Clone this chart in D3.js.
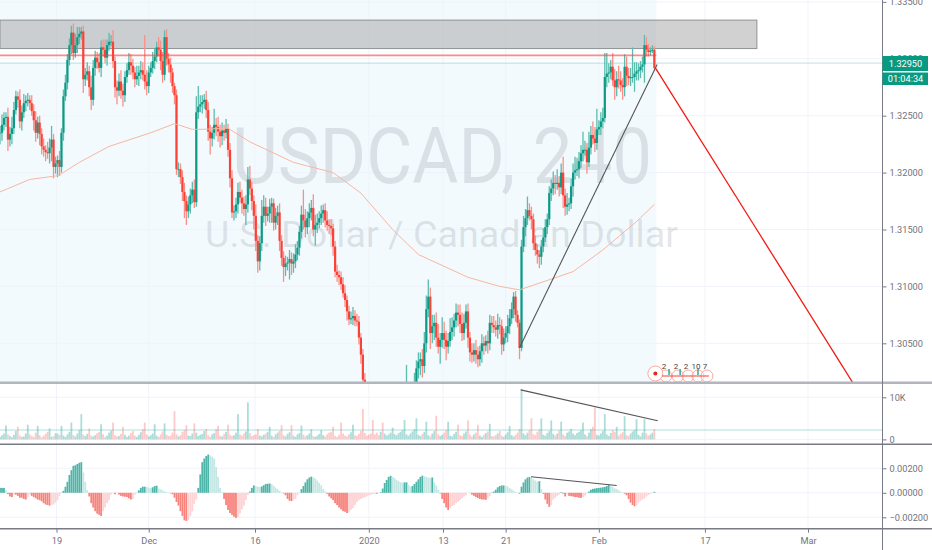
<!DOCTYPE html>
<html>
<head>
<meta charset="utf-8">
<script src="https://cdn.jsdelivr.net/npm/d3@7"></script>
<style>
  html, body { margin: 0; padding: 0; background: #fff; overflow: hidden; }
  svg { display: block; }
  .axis text { font-family: Roboto, sans-serif; font-size: 9.2px; fill: #6f737e; }
  .axis line { stroke: #787b86; }
  .axis path { display: none; }
</style>
</head>
<body>
<div id="chart"></div>
<script>
// all prices are pips above 1.25500, bar index is one 4h candle
const closes = [
  685,692,698,699,679,684,689,705,717,714,
  695,703,711,713,714,711,704,696,685,694,
  684,673,670,668,667,672,679,655,658,661,
  655,685,717,729,749,762,773,755,762,769,
  772,774,732,736,739,725,714,742,751,747,
  742,760,758,751,762,765,765,748,725,722,
  730,722,718,734,740,747,744,738,732,735,
  738,740,736,730,726,738,742,748,752,760,
  758,748,736,769,750,745,738,726,718,653,
  653,646,633,625,616,622,630,635,624,703,
  708,710,712,714,705,686,680,685,692,690,
  686,682,687,685,689,670,645,615,616,622,
  633,628,623,618,622,644,636,625,612,590,
  572,588,612,620,612,614,620,623,606,612,
  615,590,575,567,570,571,574,570,572,578,
  584,598,613,608,602,610,615,619,600,604,
  606,610,614,617,608,604,603,601,585,563,
  560,558,552,544,538,528,521,522,524,520,
  519,505,490,468,450,440,425,410,398,385,
  372,368,370,365,372,378,384,392,400,410,
  418,425,430,436,440,445,450,456,460,464,
  478,484,486,480,500,530,541,509,515,518,
  505,497,503,509,503,497,502,510,514,520,
  527,525,517,509,518,528,505,492,490,494,
  490,486,493,500,498,502,500,518,516,514,
  512,516,515,499,505,509,515,522,530,541,
  525,518,496,585,602,610,617,612,609,588,
  582,578,576,585,593,602,609,632,636,641,
  640,641,637,650,630,620,622,623,638,650,
  652,653,660,667,670,670,659,672,683,680,
  676,688,690,695,698,734,737,738,743,731,
  725,732,731,727,725,743,735,733,734,734,
  737,739,740,743,745,762,758,756,757,758,742
]
const upWick = [
  6,9,5,4,8,6,10,7,5,4,
  9,6,8,5,6,4,7,6,8,5,
  6,5,7,4,9,8,12,5,6,4,
  8,4,6,7,5,6,6,8,10,9,
  6,4,5,6,8,5,10,7,6,5,
  8,6,7,9,5,8,6,10,4,6,
  7,10,6,5,6,8,7,6,5,9,
  6,8,7,35,10,6,5,8,7,5,
  9,8,8,6,7,5,6,4,3,5,
  6,5,6,8,5,7,6,7,9,14,
  18,8,6,5,8,7,6,5,14,6,
  9,6,7,5,8,4,6,7,5,6,
  8,9,7,6,8,11,12,6,5,10,
  5,6,14,10,8,6,7,5,4,7,
  6,8,5,6,7,5,8,6,7,9,
  6,5,8,22,10,6,8,7,12,9,
  8,6,7,5,6,8,5,6,4,5,
  6,4,5,6,7,4,5,6,8,5,
  6,5,4,5,6,8,5,6,7,5,
  6,8,5,7,6,4,5,6,7,8,
  6,5,9,7,5,36,6,8,5,10,
  7,8,6,9,10,12,15,8,10,7,
  9,12,6,14,10,8,7,12,9,6,
  8,7,9,10,8,6,7,5,8,6,
  9,7,5,8,6,5,9,7,6,8,
  6,10,7,6,8,6,10,8,6,4,
  5,4,3,6,10,8,12,6,8,5,
  7,5,4,6,8,7,5,6,8,10,
  7,12,6,8,14,6,10,5,7,8,
  12,10,8,7,16,8,6,14,8,12,
  10,18,6,8,9,21,18,8,6,12,
  10,7,12,8,6,11,9,7,8,26,
  10,8,6,5,7,9,7,5,3,4,3
]
const downWick = [
  10,7,5,8,10,6,9,5,4,7,
  6,8,5,7,5,6,4,9,8,5,
  10,7,6,8,5,9,12,10,6,12,
  8,5,7,4,6,5,8,6,4,7,
  6,5,12,6,5,8,9,5,7,6,
  4,8,6,5,7,5,4,6,9,12,
  5,7,10,6,5,4,8,6,7,5,
  9,6,5,7,8,6,4,5,7,5,
  6,8,7,5,6,7,9,6,8,5,
  7,6,8,15,12,6,8,7,5,4,
  6,5,8,6,7,8,14,7,6,8,
  9,10,8,7,5,6,8,5,7,6,
  8,5,9,6,14,7,6,8,12,9,
  10,8,7,6,9,5,8,14,7,6,
  8,9,7,13,8,6,15,10,8,6,
  5,7,6,8,9,6,8,7,6,14,
  7,5,6,8,6,5,7,6,8,5,
  6,7,5,4,6,8,5,4,6,5,
  4,6,8,5,6,5,7,6,8,5,
  6,4,7,5,6,8,5,7,6,4,
  5,8,6,7,5,6,8,5,10,6,
  8,9,12,10,6,8,7,14,9,12,
  8,6,15,7,8,12,6,5,7,8,
  6,10,8,7,6,5,9,8,7,6,
  8,7,6,10,8,5,9,6,7,5,
  6,8,7,9,6,5,8,7,5,8,
  6,4,10,3,5,8,6,4,9,6,
  5,8,10,7,5,4,6,5,7,6,
  9,5,8,6,11,8,7,6,5,9,
  6,5,8,6,7,5,10,4,6,5,
  8,6,5,7,6,4,9,8,6,5,
  11,8,7,6,11,8,9,6,7,5,
  13,6,8,7,5,16,6,4,3,2,2
]
// volume in hundreds
const volumes = [
  6,10,14,33,12,8,5,11,20,30,
  9,6,7,14,35,12,8,6,16,32,
  10,5,9,13,18,26,6,8,15,14,
  11,32,9,6,12,18,40,10,7,14,
  22,60,11,8,13,26,9,7,10,15,
  18,36,12,6,9,16,21,40,10,7,
  8,13,30,11,6,9,15,20,9,6,
  11,17,24,40,12,7,10,14,36,9,
  6,12,19,38,11,8,9,16,67,12,
  7,10,18,22,34,9,8,14,38,16,
  8,11,13,20,25,10,6,12,15,24,
  32,9,7,13,18,35,11,8,10,16,
  60,12,9,14,19,88,15,8,10,12,
  25,9,7,11,14,18,30,9,6,12,
  16,20,34,10,7,13,17,34,9,6,
  12,15,33,11,7,10,14,24,8,6,
  9,13,22,10,7,12,16,18,30,8,
  6,11,40,14,9,7,12,17,35,10,
  8,13,20,72,15,9,11,14,46,12,
  16,10,18,40,14,9,12,16,28,13,
  10,15,18,22,46,12,9,14,19,24,
  50,11,8,13,18,42,10,7,14,20,
  56,12,8,11,16,22,42,9,7,13,
  18,35,10,8,14,19,45,11,7,12,
  16,35,9,6,11,15,19,37,8,7,
  10,14,20,9,6,12,17,32,10,7,
  11,16,25,119,14,10,16,22,50,12,
  10,18,24,50,11,9,15,20,45,13,
  9,14,21,42,12,8,16,19,25,14,
  10,15,18,22,40,12,8,16,24,30,
  76,11,9,14,20,60,12,8,15,22,
  18,30,9,13,17,55,10,8,14,19,
  22,48,11,7,16,48,14,9,12,16,24
]
// macd histogram in units of 0.00001
const histogram = [
  40,40,40,20,-10,-30,-35,-15,-15,-25,
  -40,-40,-50,-55,-35,-15,-25,-35,-45,-55,
  -60,-70,-85,-95,-100,-105,-100,-95,-80,-60,
  -25,2,16,50,90,145,185,220,225,235,
  245,250,165,90,20,-30,-85,-120,-150,-170,
  -180,-190,-150,-120,-85,-60,-15,-4,-12,-2,
  -15,-25,-30,-32,-35,-45,-55,-50,-15,-3,
  20,40,50,50,48,42,38,45,55,58,
  35,28,20,12,6,2,-4,-12,-40,-75,
  -105,-150,-190,-225,-230,-222,-190,-150,-90,-55,
  40,150,250,280,300,312,305,295,280,210,
  130,40,5,-50,-100,-140,-165,-180,-195,-205,
  -200,-170,-135,-105,-60,-18,10,40,60,55,
  50,48,52,62,72,74,76,70,58,42,
  30,15,4,-5,-20,-50,-65,-68,-60,-50,
  -20,-4,30,55,85,110,125,132,125,118,
  100,80,60,30,10,-8,-30,-45,-60,-85,
  -100,-120,-135,-150,-155,-165,-160,-140,-125,-100,
  -75,-60,-50,-42,-36,-28,-20,-16,-10,-8,
  -8,-3,5,35,80,105,130,138,130,120,
  105,95,85,82,85,85,65,50,55,72,
  90,110,130,140,135,130,125,120,125,85,
  60,25,-5,-50,-85,-120,-140,-125,-110,-100,
  -85,-72,-60,-45,-30,-20,-2,-2,-15,-25,
  -35,-42,-50,-55,-55,-58,-45,-25,2,10,
  25,45,55,60,60,58,52,38,30,18,
  8,2,-8,50,85,110,125,130,125,110,
  100,90,95,30,-8,-55,-90,-115,-100,-55,
  -40,-25,-15,5,-8,-30,-12,-25,-28,-30,
  -35,-35,-40,-42,-35,-22,-6,10,25,32,
  35,38,40,42,45,48,55,65,60,48,
  36,30,20,10,3,-8,-20,-50,-80,-100,
  -110,-100,-80,-65,-55,-45,-30,-18,-8,-3,8
]
const maIndex = [0,15,28,30,40,55,76,88,97,102,115,126,148,168,182,198,211,236,252,262,279,289,304,321,330]
const maPips = [633,644,647,648,659,673,685,693,688,688,689,677,659,650,632,600,578,558,550,547,557,563,582,607,622]

const priceTicks = [1.305, 1.31, 1.315, 1.32, 1.325, 1.33, 1.335]
const volumeTicks = [0, 10000]
const macdTicks = [-0.002, 0, 0.002]
const timeIndex = [28.5, 75, 128.6, 186, 223.4, 255, 302, 355.5, 407.5]
const timeLabels = ["19", "Dec", "16", "2020", "13", "21", "Feb", "17", "Mar"]
const eventIndex = [334.8, 340.9, 346, 351, 355.5]
const eventLabels = ["2", "2", "2", "10", "7"]
const eventMarks = [337.4, 343, 352]
const lastPriceLabel = "1.32950"
const countdownLabel = "01:04:34"
const lastPrice = 1.32962
const resistancePips = 753
const zonePips = [759, 784]
const zoneEnd = 381.7
const volumeAverage = 2240
const priceTrend = { index: [262, 331.4], pips: [496, 745] }
const projection = { index: [330.5, 430.2], pips: [742, 465] }
const volumeTrend = { index: [262.6, 331.7], value: [11760, 4450] }
const macdTrend = { index: [267.8, 311], value: [131, 60] }

const width = 932
const height = 550
const plotRight = 882.5
const mainBottom = 382
const lastBar = closes.length - 1
const teal = "#0b9a85"
const red = "#fb4136"
const pips = (v) => 1.255 + v / 10000

const x = d3.scaleLinear().domain([0, 445]).range([0, 882.4])
const y = d3.scaleLinear().domain([1.305, 1.325]).range([343.3, 115.7])
const yVol = d3.scaleLinear().domain([0, 10000]).range([439.4, 397.3])
const yMacd = d3.scaleLinear().domain([-0.002, 0.002]).range([517.3, 468.3])

const svg = d3.select("#chart").append("svg").attr("width", width).attr("height", height)

svg.append("clipPath").attr("id", "main-clip").append("rect")
  .attr("x", 0).attr("y", 0).attr("width", plotRight).attr("height", mainBottom)

// session shading behind the bars
svg.append("rect")
  .attr("x", 0).attr("y", 0)
  .attr("width", x(lastBar) + 2).attr("height", mainBottom)
  .attr("fill", "#f2fafe")
// paler strip between the zone and the last price
svg.append("rect")
  .attr("x", 0).attr("y", y(pips(zonePips[0])))
  .attr("width", x(lastBar) + 2).attr("height", y(lastPrice) - y(pips(zonePips[0])))
  .attr("fill", "#fff").attr("fill-opacity", 0.7)

// grid
const grid = svg.append("g").attr("stroke", "#f0f3fa").attr("stroke-width", 1)
grid.selectAll(".v").data(timeIndex).enter().append("line")
  .attr("x1", (d) => x(d)).attr("x2", (d) => x(d))
  .attr("y1", 0).attr("y2", 528)
grid.selectAll(".p").data(priceTicks).enter().append("line")
  .attr("x1", 0).attr("x2", plotRight)
  .attr("y1", (d) => y(d)).attr("y2", (d) => y(d))
grid.selectAll(".vo").data(volumeTicks).enter().append("line")
  .attr("x1", 0).attr("x2", plotRight)
  .attr("y1", (d) => yVol(d)).attr("y2", (d) => yVol(d))
grid.selectAll(".m").data(macdTicks).enter().append("line")
  .attr("x1", 0).attr("x2", plotRight)
  .attr("y1", (d) => yMacd(d)).attr("y2", (d) => yMacd(d))

// watermark
svg.append("text")
  .attr("x", 232).attr("y", 183)
  .attr("font-family", "Roboto, sans-serif").attr("font-size", 77)
  .attr("textLength", 420).attr("lengthAdjust", "spacingAndGlyphs")
  .attr("fill", "#787b86").attr("fill-opacity", 0.2)
  .text("USDCAD, 240")
svg.append("text")
  .attr("x", 205).attr("y", 247)
  .attr("font-family", "Roboto, sans-serif").attr("font-size", 36.5)
  .attr("textLength", 473).attr("lengthAdjust", "spacingAndGlyphs")
  .attr("fill", "#787b86").attr("fill-opacity", 0.2)
  .text("U.S. Dollar / Canadian Dollar")

// resistance zone
svg.append("rect")
  .attr("x", 0).attr("y", y(pips(zonePips[1])))
  .attr("width", x(zoneEnd)).attr("height", y(pips(zonePips[0])) - y(pips(zonePips[1])))
  .attr("fill", "#9a9a9a").attr("fill-opacity", 0.45)
  .attr("stroke", "#8f9294").attr("stroke-width", 1)

svg.append("line")
  .attr("x1", 0).attr("x2", plotRight)
  .attr("y1", y(lastPrice)).attr("y2", y(lastPrice))
  .attr("stroke", "#26a69a").attr("stroke-opacity", 0.3).attr("stroke-width", 1)

// candles
const main = svg.append("g").attr("clip-path", "url(#main-clip)")
const candles = closes.map((c, i) => {
  const open = i === 0 ? c : closes[i - 1]
  return {
    i: i,
    open: open,
    close: c,
    high: Math.max(open, c) + upWick[i],
    low: Math.min(open, c) - downWick[i],
    up: c >= open,
  }
})
main.append("g").selectAll("line").data(candles).enter().append("line")
  .attr("x1", (d) => x(d.i)).attr("x2", (d) => x(d.i))
  .attr("y1", (d) => y(pips(d.high))).attr("y2", (d) => y(pips(d.low)))
  .attr("stroke", (d) => (d.up ? "#5cbcae" : "#fb8f88"))
  .attr("stroke-width", 1.3)
main.append("g").selectAll("rect").data(candles).enter().append("rect")
  .attr("x", (d) => x(d.i) - 1.1)
  .attr("width", 2.2)
  .attr("y", (d) => y(pips(Math.max(d.open, d.close))))
  .attr("height", (d) => Math.max(0.8, Math.abs(y(pips(d.open)) - y(pips(d.close)))))
  .attr("fill", (d) => (d.up ? teal : red))

svg.append("line")
  .attr("x1", 0).attr("x2", x(lastBar) + 2)
  .attr("y1", y(pips(resistancePips))).attr("y2", y(pips(resistancePips)))
  .attr("stroke", red).attr("stroke-opacity", 0.6).attr("stroke-width", 1.8)

// moving average
const maLine = d3.line()
  .x((d) => x(d))
  .y((d, i) => y(pips(maPips[i])))
main.append("path")
  .attr("d", maLine(maIndex))
  .attr("fill", "none")
  .attr("stroke", "#f8b7a0")
  .attr("stroke-width", 1)

// drawings
main.append("line")
  .attr("x1", x(priceTrend.index[0])).attr("y1", y(pips(priceTrend.pips[0])))
  .attr("x2", x(priceTrend.index[1])).attr("y2", y(pips(priceTrend.pips[1])))
  .attr("stroke", "#555").attr("stroke-width", 1.1)
main.append("line")
  .attr("x1", x(projection.index[0])).attr("y1", y(pips(projection.pips[0])))
  .attr("x2", x(projection.index[1])).attr("y2", y(pips(projection.pips[1])))
  .attr("stroke", "#f21a12").attr("stroke-width", 1.3)

// events on the time line
const events = main.append("g")
events.selectAll("circle").data(eventIndex).enter().append("circle")
  .attr("cx", (d) => x(d) + 2).attr("cy", 376).attr("r", 6)
  .attr("fill", "#fff").attr("fill-opacity", 0.4)
  .attr("stroke", "#f9a99f").attr("stroke-width", 1)
events.append("circle")
  .attr("cx", x(330.5)).attr("cy", 373.5).attr("r", 7.5)
  .attr("fill", "#fff").attr("stroke", "#f9a99f").attr("stroke-width", 1)
events.append("circle")
  .attr("cx", x(330.5)).attr("cy", 373.5).attr("r", 2)
  .attr("fill", "#e8261c")
events.append("line")
  .attr("x1", x(eventIndex[0]) - 2).attr("x2", x(eventIndex[4]) + 4)
  .attr("y1", 376).attr("y2", 376)
  .attr("stroke", "#f2433a").attr("stroke-width", 1.2)
events.selectAll(".mark").data(eventMarks).enter().append("line")
  .attr("x1", (d) => x(d)).attr("x2", (d) => x(d))
  .attr("y1", 369).attr("y2", 375)
  .attr("stroke", "#3fae9f").attr("stroke-width", 1.6)
events.selectAll("text").data(eventLabels).enter().append("text")
  .attr("x", (d, i) => x(eventIndex[i]))
  .attr("y", 369)
  .attr("text-anchor", "middle")
  .attr("font-family", "Roboto, sans-serif")
  .attr("font-size", 8)
  .attr("fill", "#444")
  .text((d) => d)

// volume pane
svg.append("line")
  .attr("x1", 0).attr("x2", plotRight)
  .attr("y1", yVol(volumeAverage)).attr("y2", yVol(volumeAverage))
  .attr("stroke", "#26a69a").attr("stroke-opacity", 0.18).attr("stroke-width", 2)
svg.append("g").selectAll("rect").data(volumes).enter().append("rect")
  .attr("x", (d, i) => x(i) - 0.9)
  .attr("width", 1.8)
  .attr("y", (d) => yVol(d * 100))
  .attr("height", (d) => yVol(0) - yVol(d * 100))
  .attr("fill", (d, i) => (candles[i].up ? "#26a69a" : "#ef5350"))
  .attr("fill-opacity", (d, i) => (candles[i].up ? 0.38 : 0.3))
svg.append("line")
  .attr("x1", x(volumeTrend.index[0])).attr("y1", yVol(volumeTrend.value[0]))
  .attr("x2", x(volumeTrend.index[1])).attr("y2", yVol(volumeTrend.value[1]))
  .attr("stroke", "#555").attr("stroke-width", 1.1)

// macd pane
svg.append("g").selectAll("rect").data(histogram).enter().append("rect")
  .attr("x", (d, i) => x(i) - 0.9)
  .attr("width", 1.8)
  .attr("y", (d) => yMacd(Math.max(d, 0) / 100000))
  .attr("height", (d) => Math.abs(yMacd(d / 100000) - yMacd(0)))
  .attr("fill", function (d, i) {
    const prev = i === 0 ? 0 : histogram[i - 1]
    if (d >= 0) {
      return d >= prev ? "#4fb5a8" : "#c4e7e3"
    }
    return d <= prev ? "#f8837c" : "#fdd3d4"
  })
svg.append("line")
  .attr("x1", x(macdTrend.index[0])).attr("y1", yMacd(macdTrend.value[0] / 100000))
  .attr("x2", x(macdTrend.index[1])).attr("y2", yMacd(macdTrend.value[1] / 100000))
  .attr("stroke", "#555").attr("stroke-width", 1.1)

// right axes
const priceAxis = d3.axisRight(y).tickValues(priceTicks).tickFormat(d3.format(".5f")).tickSize(4).tickPadding(3)
const volAxis = d3.axisRight(yVol).tickValues(volumeTicks).tickFormat((d) => (d === 0 ? "0" : d / 1000 + "K")).tickSize(4).tickPadding(3)
const macdAxis = d3.axisRight(yMacd).tickValues(macdTicks).tickFormat((d) => d3.format(".5f")(d).replace("-", "\u2212")).tickSize(4).tickPadding(3)
svg.append("g").attr("class", "axis").attr("transform", "translate(" + plotRight + ",0)").call(priceAxis)
svg.append("g").attr("class", "axis").attr("transform", "translate(" + plotRight + ",0)").call(volAxis)
svg.append("g").attr("class", "axis").attr("transform", "translate(" + plotRight + ",0)").call(macdAxis)

// time axis
const timeAxis = d3.axisBottom(x).tickValues(timeIndex).tickFormat((d, i) => timeLabels[i]).tickSize(4).tickPadding(5)
svg.append("g").attr("class", "axis").attr("transform", "translate(0,528.7)").call(timeAxis)

// pane separators
const separators = [
  { y: 382.8, w: 2.4, c: "#b2b5be" },
  { y: 444.3, w: 1.4, c: "#787b86" },
  { y: 528.7, w: 1.4, c: "#787b86" },
]
svg.selectAll(".sep").data(separators).enter().append("line")
  .attr("x1", 0).attr("x2", width)
  .attr("y1", (d) => d.y).attr("y2", (d) => d.y)
  .attr("stroke", (d) => d.c).attr("stroke-width", (d) => d.w)
svg.append("line")
  .attr("x1", plotRight).attr("x2", plotRight)
  .attr("y1", 0).attr("y2", height)
  .attr("stroke", "#787b86").attr("stroke-width", 1)

// last price labels
const tags = [
  { label: lastPriceLabel, top: 56, h: 15 },
  { label: countdownLabel, top: 72.5, h: 12.5 },
]
const tag = svg.selectAll(".tag").data(tags).enter().append("g")
tag.append("rect")
  .attr("x", plotRight).attr("y", (d) => d.top)
  .attr("width", 45.5).attr("height", (d) => d.h)
  .attr("fill", "#089981")
tag.append("text")
  .attr("x", plotRight + 23).attr("y", (d) => d.top + d.h / 2 + 3.3)
  .attr("text-anchor", "middle")
  .attr("font-family", "Roboto, sans-serif")
  .attr("font-size", 9.2)
  .attr("fill", "#fff")
  .text((d) => d.label)
</script>
</body>
</html>
